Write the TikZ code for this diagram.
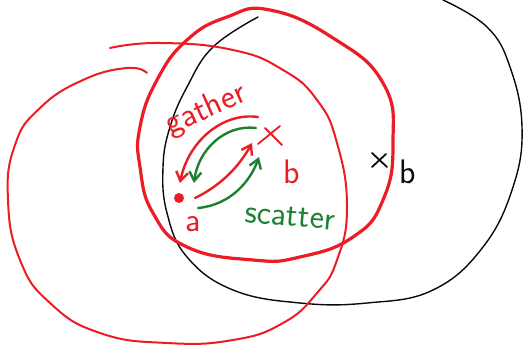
\documentclass[tikz,border=0pt]{standalone}
\usepackage{fontspec}
\usepackage{tikz}
\usetikzlibrary{arrows.meta,calc}
\definecolor{penRed}{RGB}{236,28,36}
\definecolor{penGreen}{RGB}{30,128,50}
\definecolor{penBlack}{RGB}{10,10,10}

\begin{document}
\begin{tikzpicture}[
  x=1pt, y=-1pt,
  font=\sffamily,
  thickloop/.style={draw=penRed, line width=3.2pt, line join=round},
  thinloop/.style={draw=penRed, line width=2pt, line cap=round},
  blackloop/.style={draw=penBlack, line width=1.4pt, line cap=round},
  redarrow/.style={draw=penRed, line width=2.4pt, line cap=round, -{Straight Barb[length=9pt, width=12pt, line width=2.4pt]}},
  greenarrow/.style={draw=penGreen, line width=2.4pt, line cap=round, -{Straight Barb[length=9pt, width=12pt, line width=2.4pt]}},
  cross/.style={line width=1.8pt, line cap=round},
  hand/.style={font=\sffamily\fontsize{34}{36}\selectfont, inner sep=0pt}
]
\useasboundingbox (0,0) rectangle (526,352);

% ------------------------------------------------------------------
% loops
% ------------------------------------------------------------------
\draw[blackloop] plot[smooth, tension=0.7] coordinates {(258,17) (213,47) (187,87) (170,127) (163,167) (167,213) (187,257) (233,290) (300,303) (367,303) (433,290) (483,247) (513,187) (522,127) (510,67) (487,27) (443,0)};

\draw[thinloop] plot[smooth, tension=0.8] coordinates {(110,48) (160,43) (233,50) (283,70) (317,100) (337,143) (347,207) (337,260) (317,293) (283,323) (233,340) (167,343) (100,333) (50,303) (20,260) (8,200) (15,145) (40,108) (83,80) (127,68) (147,73)};

\draw[thickloop] plot[smooth cycle, tension=0.8] coordinates {(270,10) (333,38) (383,83) (393,143) (383,200) (353,237) (300,257) (253,260) (187,247) (153,213) (140,167) (140,127) (157,80) (187,40) (227,17)};

% ------------------------------------------------------------------
% points a and b
% ------------------------------------------------------------------
\coordinate (pa) at (179,198);
\coordinate (pb) at (270,136);
\coordinate (qb) at (380,160);

\fill[penRed] (pa) circle (5);
\draw[cross, penRed] ($(pb)+(-12,8)$) -- ($(pb)+(10,-10)$);
\draw[cross, penRed] ($(pb)+(-5,-8)$) -- ($(pb)+(12,9)$);
\draw[cross, penBlack] ($(qb)+(-8,-7)$) -- ($(qb)+(7,7)$);
\draw[cross, penBlack] ($(qb)+(-8,7)$) -- ($(qb)+(6,-6)$);

\node[hand, text=penRed] (la) at (193,224) {a};
\node[hand, text=penRed] (lb) at (292,172) {b};
\node[hand, text=penBlack] (lqb) at (408,172) {b};

% ------------------------------------------------------------------
% gather / scatter
% ------------------------------------------------------------------
\coordinate (g1) at (258,117);
\coordinate (g2) at (180,183);
\coordinate (g3) at (195,198);
\coordinate (g4) at (252,143);
\coordinate (s1) at (256,128);
\coordinate (s2) at (194,183);
\coordinate (s3) at (198,208);
\coordinate (s4) at (259,157);

\draw[redarrow] (g1) .. controls (222,112) and (188,142) .. (g2);
\draw[redarrow] (g3) .. controls (222,185) and (240,165) .. (g4);
\draw[greenarrow] (s1) .. controls (225,124) and (198,150) .. (s2);
\draw[greenarrow] (s3) .. controls (230,205) and (250,182) .. (s4);

\node[hand, text=penRed, rotate=24] (gather) at (206,110) {gather};
\node[hand, text=penGreen, rotate=-5] (scatter) at (290,217) {scatter};

\end{tikzpicture}
\end{document}
